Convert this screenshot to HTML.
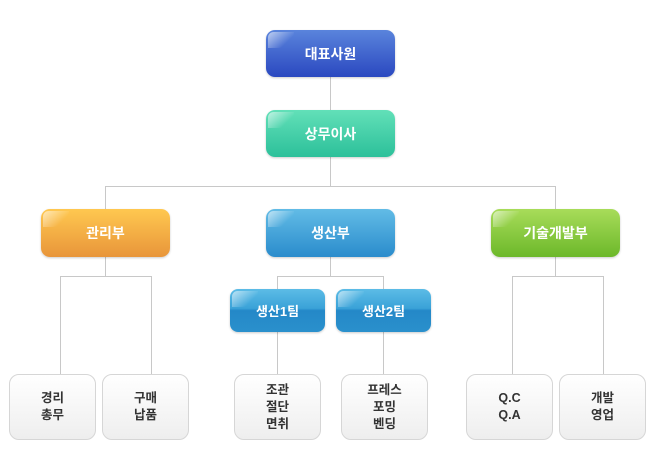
<!DOCTYPE html>
<html><head><meta charset="utf-8"><style>
body{margin:0;width:658px;height:463px;background:#fff;position:relative;overflow:hidden;font-family:"Liberation Sans","Noto Sans CJK KR",sans-serif;}
.l{position:absolute;background:#c8c8c8;}
.b{position:absolute;border-radius:9px;color:#fff;font-size:14px;font-weight:bold;display:flex;align-items:center;justify-content:center;box-shadow:0 1px 2px rgba(0,0,0,.2);}
.b::before{content:"";position:absolute;left:2px;top:2px;width:26px;height:16px;border-radius:7px 0 20px 0;background:linear-gradient(135deg,rgba(255,255,255,.6),rgba(255,255,255,0) 70%);}
.blue{background:linear-gradient(#5a84dc,#2a48c0);}
.green{background:linear-gradient(#62e0b8,#2cc09a);}
.orange{background:linear-gradient(#ffc850,#e8953a);}
.sky{background:linear-gradient(#62bce6,#2a8ccc);}
.lime{background:linear-gradient(#a8dc5a,#6cb82a);}
.team{background:linear-gradient(#5cbce6 0%,#3aa2d8 45%,#2488c8 50%,#2a90cc 100%);font-size:13px;border-radius:8px;}
.leaf{position:absolute;border:1px solid #d6d6d6;border-radius:10px;background:linear-gradient(#fff,#eee);color:#333;font-size:12.5px;font-weight:bold;display:flex;align-items:center;justify-content:center;text-align:center;line-height:17px;box-sizing:border-box;}
</style></head><body>
<div class="l" style="left:330px;top:77px;width:1px;height:110px"></div>
<div class="l" style="left:105px;top:186px;width:451px;height:1px"></div>
<div class="l" style="left:105px;top:186px;width:1px;height:24px"></div>
<div class="l" style="left:555px;top:186px;width:1px;height:24px"></div>
<div class="l" style="left:105px;top:256px;width:1px;height:20px"></div>
<div class="l" style="left:60px;top:276px;width:92px;height:1px"></div>
<div class="l" style="left:60px;top:276px;width:1px;height:99px"></div>
<div class="l" style="left:151px;top:276px;width:1px;height:99px"></div>
<div class="l" style="left:330px;top:256px;width:1px;height:20px"></div>
<div class="l" style="left:277px;top:276px;width:107px;height:1px"></div>
<div class="l" style="left:277px;top:276px;width:1px;height:14px"></div>
<div class="l" style="left:383px;top:276px;width:1px;height:14px"></div>
<div class="l" style="left:277px;top:331px;width:1px;height:44px"></div>
<div class="l" style="left:383px;top:331px;width:1px;height:44px"></div>
<div class="l" style="left:555px;top:256px;width:1px;height:20px"></div>
<div class="l" style="left:512px;top:276px;width:92px;height:1px"></div>
<div class="l" style="left:512px;top:276px;width:1px;height:99px"></div>
<div class="l" style="left:603px;top:276px;width:1px;height:99px"></div>

<div class="b blue" style="left:266px;top:30px;width:129px;height:47px">대표사원</div>
<div class="b green" style="left:266px;top:110px;width:129px;height:47px">상무이사</div>
<div class="b orange" style="left:41px;top:209px;width:129px;height:48px">관리부</div>
<div class="b sky" style="left:266px;top:209px;width:129px;height:48px">생산부</div>
<div class="b lime" style="left:491px;top:209px;width:129px;height:48px">기술개발부</div>
<div class="b team" style="left:230px;top:289px;width:95px;height:43px">생산1팀</div>
<div class="b team" style="left:336px;top:289px;width:95px;height:43px">생산2팀</div>

<div class="leaf" style="left:9px;top:374px;width:87px;height:66px">경리<br>총무</div>
<div class="leaf" style="left:102px;top:374px;width:87px;height:66px">구매<br>납품</div>
<div class="leaf" style="left:234px;top:374px;width:87px;height:66px">조관<br>절단<br>면취</div>
<div class="leaf" style="left:341px;top:374px;width:87px;height:66px">프레스<br>포밍<br>벤딩</div>
<div class="leaf" style="left:466px;top:374px;width:87px;height:66px">Q.C<br>Q.A</div>
<div class="leaf" style="left:559px;top:374px;width:87px;height:66px">개발<br>영업</div>
</body></html>
